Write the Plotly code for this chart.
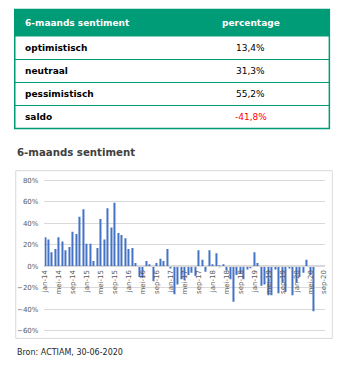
import plotly.graph_objects as go

W, H = 351, 370
FONT = "DejaVu Sans"
GREEN = "#009B77"
BAR = "#4472C4"
GRID = "#D9D9D9"
TICK = "#595959"

# ---- table data ----
table_header = ["6-maands sentiment", "percentage"]
table_labels = ["optimistisch", "neutraal", "pessimistisch", "saldo"]
table_values = ["13,4%", "31,3%", "55,2%", "-41,8%"]
table_value_colors = ["#000000", "#000000", "#000000", "#FF0000"]

# ---- chart data (6-maands sentiment saldo, %) ----
months_nl = ["jan", "feb", "mrt", "apr", "mei", "jun", "jul", "aug", "sep", "okt", "nov", "dec"]
categories = [f"{m}-{y:02d}" for y in range(14, 21) for m in months_nl][:81]  # jan-14 .. sep-20
tick_labels = categories[::4]

s2014 = [27, 25, 13, 16, 27, 23, 15, 18, 32, 30, 46, 53]
s2015 = [21, 21, 5, 17, 44, 25, 54, 36, 59, 31, 29, 26]
s2016 = [16, 17, 3, -10, -11, 5, 2, -14, 3, 7, 5, 16]
s2017 = [-2, -26, -17, -12, -13, -8, -6, -9, 15, 6, -5, 15]
s2018 = [2, 12, 1, 2, -4, -12, -33, -8, -7, -12, -3, -1]
s2019 = [13, 3, -18, -17, -27, -27, -3, -25, -15, -24, -2, -27]
s2020 = [-15, -10, -6, 6, -8, -41.8]
sentiment = s2014 + s2015 + s2016 + s2017 + s2018 + s2019 + s2020

# ---- geometry (pixels) ----
T_LEFT, T_RIGHT, T_TOP = 12, 333, 7.5
HDR_H, ROW_H = 27.5, 23.3
T_BOTTOM = T_TOP + HDR_H + ROW_H * len(table_labels)
COL2_CENTER = 253
TEXT_PAD = 8.7

PLOT_L, PLOT_R = 42.3, 328.3
Y_MIN, Y_MAX = -61, 81
Y_TOP_PX, Y_BOT_PX = 179.6, 334.4
px_per = (Y_BOT_PX - Y_TOP_PX) / (Y_MAX - Y_MIN)
zero_px = Y_TOP_PX + Y_MAX * px_per


def py(p):
    return 1 - p / H


def px(p):
    return p / W


fig = go.Figure()

fig.add_trace(go.Bar(
    x=categories[:len(sentiment)],
    y=sentiment,
    marker=dict(color=BAR, line=dict(width=0)),
    hoverinfo="x+y",
))

shapes = []
annotations = []

# table: header fill, borders, row separators
shapes.append(dict(type="rect", xref="paper", yref="paper", layer="below",
                   x0=px(T_LEFT), x1=px(T_RIGHT), y0=py(T_TOP + HDR_H), y1=py(T_TOP),
                   fillcolor=GREEN, line=dict(width=0)))
shapes.append(dict(type="rect", xref="paper", yref="paper",
                   x0=px(T_LEFT), x1=px(T_RIGHT), y0=py(T_BOTTOM), y1=py(T_TOP),
                   line=dict(color=GREEN, width=1.5)))
for k in range(1, len(table_labels)):
    yy = T_TOP + HDR_H + ROW_H * k
    shapes.append(dict(type="line", xref="paper", yref="paper",
                       x0=px(T_LEFT), x1=px(T_RIGHT), y0=py(yy), y1=py(yy),
                       line=dict(color=GREEN, width=1)))

# table text
hdr_y = T_TOP + HDR_H / 2
annotations.append(dict(text=f"<b>{table_header[0]}</b>", xref="paper", yref="paper",
                        x=px(T_LEFT + TEXT_PAD), y=py(hdr_y), xanchor="left", yanchor="middle",
                        showarrow=False, font=dict(size=9, color="white", family=FONT)))
annotations.append(dict(text=f"<b>{table_header[1]}</b>", xref="paper", yref="paper",
                        x=px(COL2_CENTER), y=py(hdr_y), xanchor="center", yanchor="middle",
                        showarrow=False, font=dict(size=9, color="white", family=FONT)))
for k, (lab, val, col) in enumerate(zip(table_labels, table_values, table_value_colors)):
    yy = T_TOP + HDR_H + ROW_H * k + ROW_H / 2
    annotations.append(dict(text=f"<b>{lab}</b>", xref="paper", yref="paper",
                            x=px(T_LEFT + TEXT_PAD), y=py(yy), xanchor="left", yanchor="middle",
                            showarrow=False, font=dict(size=9, color="#000000", family=FONT)))
    annotations.append(dict(text=val, xref="paper", yref="paper",
                            x=px(COL2_CENTER), y=py(yy), xanchor="center", yanchor="middle",
                            showarrow=False, font=dict(size=9, color=col, family=FONT)))

# chart box
shapes.append(dict(type="rect", xref="paper", yref="paper",
                   x0=px(13), x1=px(336), y0=py(341), y1=py(171),
                   line=dict(color=GRID, width=1)))

annotations.append(dict(text="<b>6-maands sentiment</b>", xref="paper", yref="paper",
                        x=px(12), y=py(153), xanchor="left", yanchor="middle", showarrow=False,
                        font=dict(size=10.2, color="#404040", family=FONT)))
annotations.append(dict(text="Bron: ACTIAM, 30-06-2020", xref="paper", yref="paper",
                        x=px(12), y=py(355), xanchor="left", yanchor="middle", showarrow=False,
                        font=dict(size=8, color="#262626", family=FONT)))

fig.update_layout(
    width=W, height=H,
    margin=dict(l=0, r=0, t=0, b=0),
    paper_bgcolor="white", plot_bgcolor="white",
    showlegend=False,
    bargap=0.7,
    font=dict(family=FONT),
    shapes=shapes,
    annotations=annotations,
    xaxis=dict(
        type="category", categoryorder="array", categoryarray=categories,
        range=[-0.15, len(categories) - 1 + 0.15],
        domain=[px(PLOT_L), px(PLOT_R)],
        anchor="free", position=py(zero_px),
        tickmode="array", tickvals=tick_labels, ticktext=tick_labels,
        tickangle=-90, tickfont=dict(size=7, color=TICK, family=FONT),
        showgrid=False, showline=True, linecolor=GRID, linewidth=1, ticks="",
        fixedrange=True,
    ),
    yaxis=dict(
        range=[Y_MIN, Y_MAX], domain=[py(Y_BOT_PX), py(Y_TOP_PX)],
        tickmode="linear", tick0=0, dtick=20, ticksuffix="%",
        gridcolor=GRID, gridwidth=1, zeroline=True, zerolinecolor=GRID,
        tickfont=dict(size=7, color=TICK, family=FONT),
        ticklabelstandoff=5, showline=False, fixedrange=True,
    ),
)

fig.write_html("out.html")
